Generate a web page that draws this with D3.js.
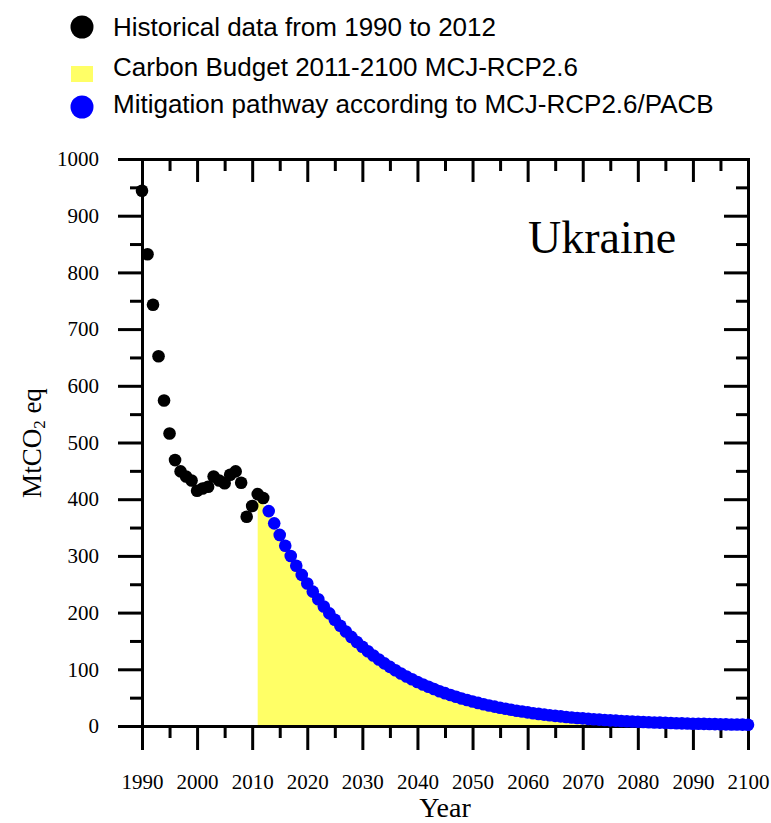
<!DOCTYPE html>
<html>
<head>
<meta charset="utf-8">
<script src="https://cdn.jsdelivr.net/npm/d3@7"></script>
<style>
  body { margin: 0; background: #fff; }
</style>
</head>
<body>
<div id="chart"></div>
<script>
// data
var histStart = 1990;
var histValues = [944, 832, 743, 652, 574, 516, 469, 449, 440, 433, 415, 419, 422,
  440, 433, 428, 443, 449, 429, 369, 388, 409, 402];

// budget area starts in 2011, the first two years sit under the black points
var budgetStart = 2011;
var budgetLead = [400, 390];

var pathStart = 2013;
var pathValues = [379, 357.4, 337, 317.8, 299.7, 282.6, 266.5, 251.3, 237, 223.5,
  210.7, 198.7, 187.4, 176.7, 166.6, 157.1, 148.2, 139.7, 131.8, 124.3,
  117.2, 110.5, 104.2, 98.3, 92.7, 87.4, 82.4, 77.7, 73.3, 69.1,
  65.2, 61.4, 57.9, 54.6, 51.5, 48.6, 45.8, 43.2, 40.7, 38.4,
  36.2, 34.2, 32.2, 30.4, 28.6, 27, 25.5, 24, 22.6, 21.3,
  20.1, 19, 17.9, 16.9, 15.9, 15, 14.2, 13.4, 12.6, 11.9,
  11.2, 10.6, 10, 9.4, 8.9, 8.4, 7.9, 7.4, 7, 6.6,
  6.2, 5.9, 5.5, 5.2, 4.9, 4.6, 4.4, 4.1, 3.9, 3.7,
  3.5, 3.3, 3.1, 2.9, 2.7, 2.6, 2.4, 2.3];

var xTicks = [1990, 2000, 2010, 2020, 2030, 2040, 2050, 2060, 2070, 2080, 2090, 2100];
var yTicks = [0, 100, 200, 300, 400, 500, 600, 700, 800, 900, 1000];

var legendLabels = ["Historical data from 1990 to 2012",
  "Carbon Budget 2011-2100 MCJ-RCP2.6",
  "Mitigation pathway according to MCJ-RCP2.6/PACB"];

var countryName = "Ukraine";

// layout
var width = 771, height = 823;
var plotLeft = 142, plotRight = 748, plotTop = 159, plotBottom = 726;
var serif = "'Liberation Serif', 'Times New Roman', serif";
var sans = "'Liberation Sans', Arial, sans-serif";

var svg = d3.select("#chart")
  .append("svg")
  .attr("width", width)
  .attr("height", height);

var x = d3.scaleLinear().domain([1990, 2100]).range([plotLeft, plotRight]);
var y = d3.scaleLinear().domain([0, 1000]).range([plotBottom, plotTop]);

var hist = histValues.map(function(v, i) { return { year: histStart + i, value: v }; });
var path = pathValues.map(function(v, i) { return { year: pathStart + i, value: v }; });
var budget = budgetLead.map(function(v, i) { return { year: budgetStart + i, value: v }; })
  .concat(path);

var xMinor = xTicks.slice(0, -1).map(function(d) { return d + 5; });
var yMinor = yTicks.slice(0, -1).map(function(d) { return d + 50; });

// yellow budget area
var area = d3.area()
  .x(function(d) { return x(d.year); })
  .y0(y(0))
  .y1(function(d) { return y(d.value); });

svg.append("path")
  .datum(budget)
  .attr("d", area)
  .attr("fill", "#ffff66");

// axes
function styleAxis(g) {
  g.attr("font-family", serif).attr("font-size", 21);
  g.selectAll("line, path").attr("stroke", "#000").attr("stroke-width", 3);
  g.select(".domain").attr("stroke-linecap", "square");
  g.selectAll("text").attr("fill", "#000");
}

svg.append("g")
  .attr("transform", "translate(" + plotLeft + ",0)")
  .call(d3.axisLeft(y).tickValues(yTicks).tickSize(24).tickSizeOuter(0)
    .tickPadding(19).tickFormat(d3.format("d")))
  .call(styleAxis);
svg.append("g")
  .attr("transform", "translate(" + plotLeft + ",0)")
  .call(d3.axisLeft(y).tickValues(yMinor).tickSize(12).tickSizeOuter(0).tickFormat(""))
  .call(styleAxis);

svg.append("g")
  .attr("transform", "translate(" + plotRight + ",0)")
  .call(d3.axisRight(y).tickValues(yTicks).tickSize(-24).tickSizeOuter(0).tickFormat(""))
  .call(styleAxis);
svg.append("g")
  .attr("transform", "translate(" + plotRight + ",0)")
  .call(d3.axisRight(y).tickValues(yMinor).tickSize(-12).tickSizeOuter(0).tickFormat(""))
  .call(styleAxis);

svg.append("g")
  .attr("transform", "translate(0," + plotBottom + ")")
  .call(d3.axisBottom(x).tickValues(xTicks).tickSize(24).tickSizeOuter(0)
    .tickPadding(24).tickFormat(d3.format("d")))
  .call(styleAxis);
svg.append("g")
  .attr("transform", "translate(0," + plotBottom + ")")
  .call(d3.axisBottom(x).tickValues(xMinor).tickSize(12).tickSizeOuter(0).tickFormat(""))
  .call(styleAxis);

svg.append("g")
  .attr("transform", "translate(0," + plotTop + ")")
  .call(d3.axisTop(x).tickValues(xTicks).tickSize(-23).tickSizeOuter(0).tickFormat(""))
  .call(styleAxis);
svg.append("g")
  .attr("transform", "translate(0," + plotTop + ")")
  .call(d3.axisTop(x).tickValues(xMinor).tickSize(-12).tickSizeOuter(0).tickFormat(""))
  .call(styleAxis);

// points
svg.append("g")
  .selectAll("circle")
  .data(path)
  .enter()
  .append("circle")
  .attr("cx", function(d) { return x(d.year); })
  .attr("cy", function(d) { return y(d.value); })
  .attr("r", 6.3)
  .attr("fill", "#0000ff");

svg.append("g")
  .selectAll("circle")
  .data(hist)
  .enter()
  .append("circle")
  .attr("cx", function(d) { return x(d.year); })
  .attr("cy", function(d) { return y(d.value); })
  .attr("r", 6.3)
  .attr("fill", "#000");

// titles
svg.append("text")
  .attr("x", (plotLeft + plotRight) / 2)
  .attr("y", 817)
  .attr("text-anchor", "middle")
  .attr("font-family", serif)
  .attr("font-size", 28)
  .text("Year");

var yTitle = svg.append("text")
  .attr("transform", "translate(41,443) rotate(-90)")
  .attr("text-anchor", "middle")
  .attr("font-family", serif)
  .attr("font-size", 27);
yTitle.append("tspan").text("MtCO");
yTitle.append("tspan").attr("font-size", 17).attr("dy", 4).text("2");
yTitle.append("tspan").attr("dy", -4).text(" eq");

svg.append("text")
  .attr("x", 528)
  .attr("y", 253)
  .attr("font-family", serif)
  .attr("font-size", 46)
  .text(countryName);

// legend
var legendY = [36, 76, 113];
var legend = svg.append("g");

legend.append("circle").attr("cx", 82).attr("cy", 27).attr("r", 11.5).attr("fill", "#000");
legend.append("rect").attr("x", 71).attr("y", 66).attr("width", 22).attr("height", 16)
  .attr("fill", "#ffff66");
legend.append("circle").attr("cx", 82).attr("cy", 107).attr("r", 11.5).attr("fill", "#0000ff");

legend.selectAll("text")
  .data(legendLabels)
  .enter()
  .append("text")
  .attr("x", 113)
  .attr("y", function(d, i) { return legendY[i]; })
  .attr("font-family", sans)
  .attr("font-size", 26)
  .text(function(d) { return d; });
</script>
</body>
</html>
